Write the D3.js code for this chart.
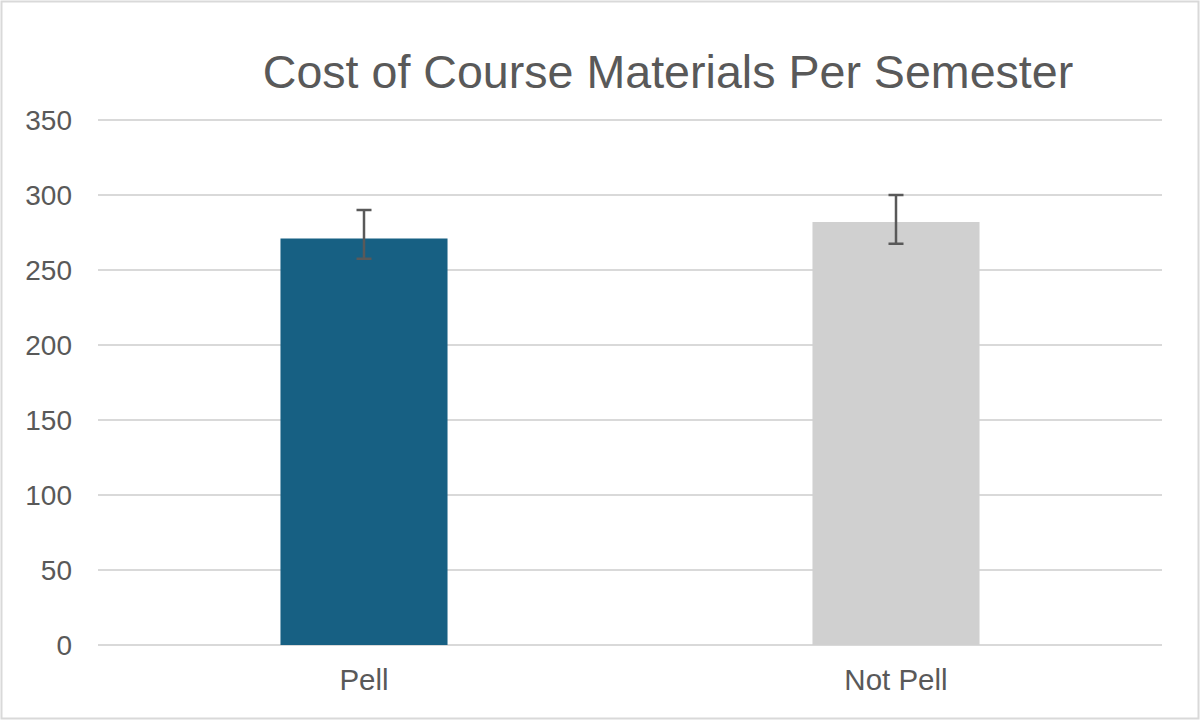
<!DOCTYPE html>
<html>
<head>
<meta charset="utf-8">
<script src="https://cdn.jsdelivr.net/npm/d3@7"></script>
<style>
  body { margin: 0; background: #fff; }
  svg text { font-family: "Liberation Sans", Arial, sans-serif; fill: #595959; }
</style>
</head>
<body>
<div id="chart"></div>
<script>
// data
var categories = ["Pell", "Not Pell"];
var means = [271, 282];
var errLow = [257.5, 267.5];
var errHigh = [290, 300];
var yTicks = [0, 50, 100, 150, 200, 250, 300, 350];
var colors = ["#176083", "#d0d0d0"];

var width = 1200, height = 720;
var margin = { top: 120, left: 98, right: 38, bottom: 75 };

var svg = d3.select("#chart").append("svg").attr("width", width).attr("height", height);

svg.append("rect")
  .attr("x", 1.5).attr("y", 1.5)
  .attr("width", width - 3).attr("height", height - 3)
  .attr("fill", "#fff").attr("stroke", "#d9d9d9").attr("stroke-width", 2);

var x = d3.scaleBand().domain(categories)
  .range([margin.left, width - margin.right])
  .paddingInner(0.686).paddingOuter(0.343);

var y = d3.scaleLinear().domain([0, 350])
  .range([height - margin.bottom, margin.top]);

// gridlines
svg.append("g").selectAll("line").data(yTicks).enter().append("line")
  .attr("x1", margin.left).attr("x2", width - margin.right)
  .attr("y1", d => y(d)).attr("y2", d => y(d))
  .attr("stroke", "#d9d9d9").attr("stroke-width", 2);

// y labels
svg.append("g").selectAll("text").data(yTicks).enter().append("text")
  .attr("x", 72).attr("y", d => y(d)).attr("dy", "0.36em")
  .attr("text-anchor", "end").attr("font-size", "28px")
  .text(d => d);

// bars
svg.append("g").selectAll("rect").data(categories).enter().append("rect")
  .attr("x", d => x(d)).attr("width", x.bandwidth())
  .attr("y", (d, i) => y(means[i]))
  .attr("height", (d, i) => y(0) - y(means[i]))
  .attr("fill", (d, i) => colors[i]);

// error bars
var eb = svg.append("g").attr("stroke", "#595959").attr("stroke-width", 2.5);
categories.forEach(function (c, i) {
  var cx = x(c) + x.bandwidth() / 2;
  eb.append("line").attr("x1", cx).attr("x2", cx).attr("y1", y(errLow[i])).attr("y2", y(errHigh[i]));
  eb.append("line").attr("x1", cx - 7.5).attr("x2", cx + 7.5).attr("y1", y(errLow[i])).attr("y2", y(errLow[i]));
  eb.append("line").attr("x1", cx - 7.5).attr("x2", cx + 7.5).attr("y1", y(errHigh[i])).attr("y2", y(errHigh[i]));
});

// category labels
svg.append("g").selectAll("text").data(categories).enter().append("text")
  .attr("x", d => x(d) + x.bandwidth() / 2).attr("y", 690)
  .attr("text-anchor", "middle").attr("font-size", "29.5px")
  .text(d => d);

svg.append("text")
  .attr("x", 668).attr("y", 88)
  .attr("text-anchor", "middle").attr("font-size", "46.6px")
  .text("Cost of Course Materials Per Semester");
</script>
</body>
</html>
